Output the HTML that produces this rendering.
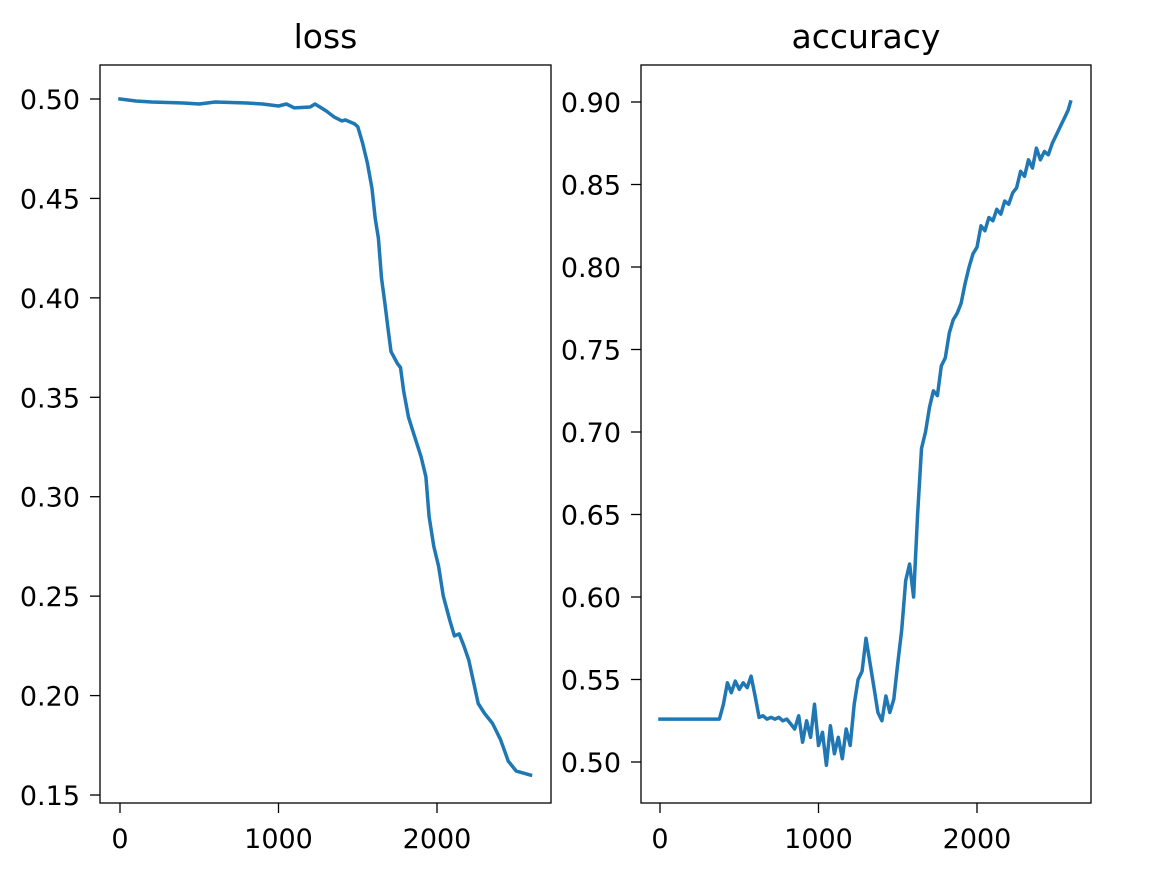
<!DOCTYPE html>
<html><head><meta charset="utf-8"><style>
body{margin:0;background:#fff;}
svg text{font-family:"DejaVu Sans","Liberation Sans",sans-serif;fill:#000;}
</style></head><body>
<svg id="fig" width="1157" height="875" xmlns="http://www.w3.org/2000/svg"></svg>
<script>
const lossX=[0,100,200,400,500,600,800,900,1000,1050,1100,1200,1230,1300,1350,1400,1420,1480,1500,1530,1560,1590,1610,1630,1650,1670,1690,1710,1730,1750,1770,1790,1820,1860,1900,1930,1950,1980,2010,2040,2080,2110,2140,2170,2200,2230,2260,2300,2350,2400,2450,2500,2590];
const lossY=[0.500,0.499,0.4985,0.498,0.4975,0.4985,0.498,0.4975,0.4965,0.4975,0.4955,0.496,0.4975,0.494,0.491,0.489,0.4895,0.4875,0.486,0.478,0.468,0.455,0.440,0.430,0.410,0.398,0.385,0.373,0.370,0.367,0.365,0.353,0.340,0.330,0.320,0.310,0.290,0.275,0.265,0.250,0.238,0.230,0.231,0.225,0.218,0.207,0.196,0.191,0.186,0.178,0.167,0.162,0.160];
const accX=[0,375,400,425,450,475,500,525,550,575,600,625,650,675,700,725,750,775,800,825,850,875,900,925,950,975,1000,1025,1050,1075,1100,1125,1150,1175,1200,1225,1250,1275,1300,1325,1350,1375,1400,1425,1450,1475,1500,1525,1550,1575,1600,1625,1650,1675,1700,1725,1750,1775,1800,1825,1850,1875,1900,1925,1950,1975,2000,2025,2050,2075,2100,2125,2150,2175,2200,2225,2250,2275,2300,2325,2350,2375,2400,2425,2450,2475,2500,2525,2550,2575,2590];
const accY=[0.526,0.526,0.535,0.548,0.542,0.549,0.544,0.548,0.545,0.552,0.540,0.527,0.528,0.526,0.527,0.526,0.527,0.525,0.526,0.523,0.520,0.528,0.512,0.525,0.515,0.535,0.510,0.518,0.498,0.522,0.505,0.515,0.502,0.520,0.510,0.535,0.550,0.555,0.575,0.560,0.545,0.530,0.525,0.540,0.530,0.538,0.560,0.580,0.610,0.620,0.600,0.650,0.690,0.700,0.715,0.725,0.722,0.740,0.745,0.760,0.768,0.772,0.778,0.790,0.800,0.808,0.812,0.825,0.822,0.830,0.828,0.835,0.832,0.840,0.838,0.845,0.848,0.858,0.855,0.865,0.860,0.872,0.865,0.870,0.868,0.875,0.880,0.885,0.890,0.895,0.900];
const lossYTicks=[0.15,0.20,0.25,0.30,0.35,0.40,0.45,0.50];
const accYTicks=[0.50,0.55,0.60,0.65,0.70,0.75,0.80,0.85,0.90];
const xTicks=[0,1000,2000];

const svg=document.getElementById('fig');
const NS='http://www.w3.org/2000/svg';
function mk(tag,attrs,parent){const e=document.createElementNS(NS,tag);for(const k in attrs)e.setAttribute(k,attrs[k]);parent.appendChild(e);return e;}

function panel(name,box,xs,ys,xTk,yTk,xmap,ymap,title){
  const g=mk('g',{},svg);
  
  
  const pts=xs.map((x,i)=>xmap(x).toFixed(1)+','+ymap(ys[i]).toFixed(1)).join(' ');
  const line=mk('polyline',{points:pts,fill:'none',stroke:'#1f77b4','stroke-width':3.5,'stroke-linejoin':'round','stroke-linecap':'square'},g);
  
  
  const fr=mk('rect',{x:box.x,y:box.y,width:box.w,height:box.h,fill:'none',stroke:'#000','stroke-width':1.3},g);
  
  
  xTk.forEach(t=>{const px=xmap(t);
    mk('line',{x1:px,x2:px,y1:box.y+box.h,y2:box.y+box.h+10,stroke:'#000','stroke-width':1.3},g);
    const tx=mk('text',{x:px,y:box.y+box.h+45,'text-anchor':'middle','font-size':27},g);tx.textContent=t;
    
    
  });
  yTk.forEach(t=>{const py=ymap(t);
    mk('line',{x1:box.x-10,x2:box.x,y1:py,y2:py,stroke:'#000','stroke-width':1.3},g);
    const tx=mk('text',{x:box.x-20,y:py+10,'text-anchor':'end','font-size':27},g);tx.textContent=t.toFixed(2);
    
    
  });
  const tt=mk('text',{x:box.x+box.w/2,y:48,'text-anchor':'middle','font-size':33},g);tt.textContent=title;
  
  
}
const lb={x:100,y:65,w:451,h:738};
panel('loss',lb,lossX,lossY,xTicks,lossYTicks,x=>120+x*0.1585,y=>99+(0.5-y)*1988.6,'loss');
const ab={x:641,y:65,w:450,h:738};
panel('accuracy',ab,accX,accY,xTicks,accYTicks,x=>660+x*0.1585,y=>762-(y-0.5)*1650,'accuracy');
</script>
</body></html>
